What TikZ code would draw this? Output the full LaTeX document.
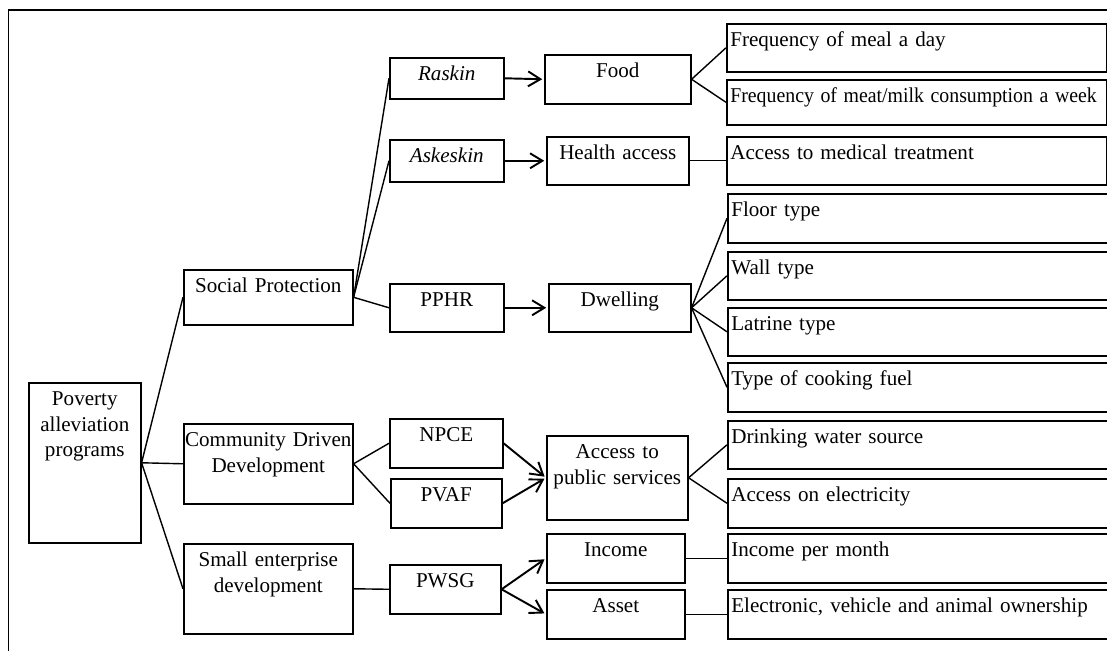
\documentclass[tikz,border=0pt]{standalone}
\usepackage{fontspec}
\setmainfont{Liberation Serif}
\usetikzlibrary{arrows.meta}

\begin{document}
\begin{tikzpicture}[x=0.02cm, y=-0.02cm, font=\fontsize{12}{14.5}\selectfont,
    box/.style 2 args={draw, line width=0.9pt, anchor=north west, inner xsep=0pt, inner ysep=2pt, align=center,
        text width=#1*0.02cm, text height=11pt, text depth=#2*0.02cm-15pt},
    leaf/.style={box={380}{#1}, align=left, inner xsep=2pt, text width=380*0.02cm-4pt},
    conn/.style={line width=0.8pt},
    arr/.style={line width=1.1pt, shorten >=1pt, -{Straight Barb[length=7pt,width=8.5pt]}}]
    \useasboundingbox (0,0) rectangle (1107,651);

    % Frame
    \draw[line width=0.9pt] (8.5,651) |- (1107,10);

    % Programs
    \node[box={112}{160}] (pov) at (28,382) {Poverty\\alleviation\\programs};
    \node[box={169}{55}] (sp) at (183,269) {Social Protection};
    \node[box={169}{80}] (cdd) at (183,423) {Community Driven\\Development};
    \node[box={169}{90}] (sed) at (183,543) {Small enterprise\\development};

    % Sub-programs
    \node[box={114}{41}] (raskin) at (389,57) {\textit{Raskin}};
    \node[box={114}{42}] (askeskin) at (389,139) {\textit{Askeskin}};
    \node[box={114}{48}] (pphr) at (389,283) {PPHR};
    \node[box={113}{49}] (npce) at (389,418) {NPCE};
    \node[box={111}{49}] (pvaf) at (390,478) {PVAF};
    \node[box={111}{49}] (pwsg) at (389,564) {PWSG};

    % Dimensions
    \node[box={146}{49}] (food) at (544,54) {Food};
    \node[box={142}{48}] (health) at (546,136) {Health access};
    \node[box={142}{48}] (dwell) at (548,283) {Dwelling};
    \node[box={141}{84}] (aps) at (546,435) {Access to\\public services};
    \node[box={138}{49}] (income) at (546,533) {Income};
    \node[box={138}{49}] (asset) at (546,589) {Asset};

    % Indicators
    \node[leaf={48}] (meal) at (726,23) {Frequency of meal a day};
    \node[leaf={45}] (meat) at (726,79) {\scalebox{0.94}[1]{Frequency of meat/milk consumption a week}};
    \node[leaf={48}] (medical) at (726,136) {Access to medical treatment};
    \node[leaf={49}] (floor) at (727,193) {Floor type};
    \node[leaf={48}] (wall) at (727,251) {Wall type};
    \node[leaf={48}] (latrine) at (727,307) {Latrine type};
    \node[leaf={49}] (fuel) at (727,362) {Type of cooking fuel};
    \node[leaf={48}] (water) at (727,420) {Drinking water source};
    \node[leaf={49}] (elec) at (727,478) {Access on electricity};
    \node[leaf={49}] (incpm) at (727,533) {Income per month};
    \node[leaf={49}] (own) at (727,589) {Electronic, vehicle and animal ownership};

    % Connectors
    \draw[conn] (pov.east) -- (sp.west);
    \draw[conn] (pov.east) -- (cdd.west);
    \draw[conn] (pov.east) -- (sed.west);
    \draw[conn] (sp.east) -- (raskin.west);
    \draw[conn] (sp.east) -- (askeskin.west);
    \draw[conn] (sp.east) -- (pphr.west);
    \draw[conn] (cdd.east) -- (npce.west);
    \draw[conn] (cdd.east) -- (pvaf.west);
    \draw[conn] (sed.east) -- (pwsg.west);

    \draw[arr] (raskin.east) -- (food.west);
    \draw[arr] (askeskin.east) -- (health.west);
    \draw[arr] (pphr.east) -- (dwell.west);
    \draw[arr] (npce.east) -- (aps.west);
    \draw[arr] (pvaf.east) -- (aps.west);
    \draw[arr] (pwsg.east) -- (income.west);
    \draw[arr] (pwsg.east) -- (asset.west);

    \draw[conn] (food.east) -- (meal.west);
    \draw[conn] (food.east) -- (meat.west);
    \draw[conn] (health.east) -- (medical.west);
    \draw[conn] (dwell.east) -- (floor.west);
    \draw[conn] (dwell.east) -- (wall.west);
    \draw[conn] (dwell.east) -- (latrine.west);
    \draw[conn] (dwell.east) -- (fuel.west);
    \draw[conn] (aps.east) -- (water.west);
    \draw[conn] (aps.east) -- (elec.west);
    \draw[conn] (income.east) -- (incpm.west);
    \draw[conn] (asset.east) -- (own.west);

\end{tikzpicture}
\end{document}
